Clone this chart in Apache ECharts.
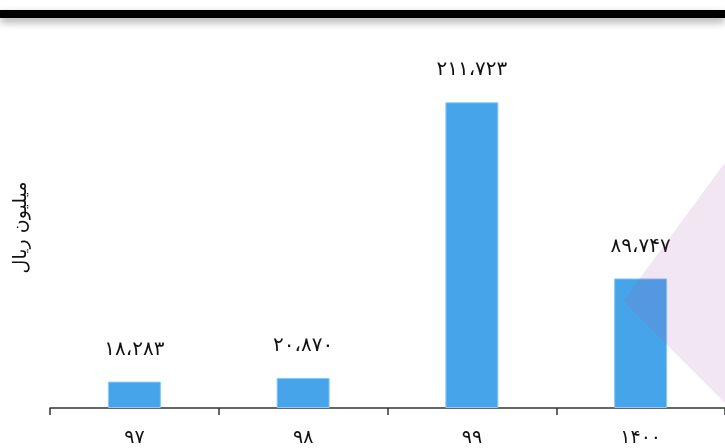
<!DOCTYPE html>
<html>
<head>
<meta charset="utf-8">
<script src="https://cdn.jsdelivr.net/npm/echarts@6/dist/echarts.min.js"></script>
<style>
html,body{margin:0;padding:0;background:#fff;}
#c{width:725px;height:448px;}
</style>
</head>
<body>
<div id="c"></div>
<script>
const categories = ['۹۷', '۹۸', '۹۹', '۱۴۰۰'];
const values = [18283, 20870, 211723, 89747];
const yAxisName = 'میلیون ریال';

function toFa(n) {
  const d = '۰۱۲۳۴۵۶۷۸۹';
  const s = String(n);
  const parts = [];
  for (let i = s.length; i > 0; i -= 3) parts.unshift(s.slice(Math.max(0, i - 3), i));
  return parts.join('،').replace(/[0-9]/g, c => d[+c]);
}

const chart = echarts.init(document.getElementById('c'));
const font = "'DejaVu Sans', sans-serif";
chart.setOption({
  animation: false,
  grid: { left: 50, right: 0, top: 47, bottom: 40 },
  xAxis: {
    type: 'category',
    data: categories,
    boundaryGap: true,
    axisLine: { show: true, lineStyle: { color: '#333', width: 1.5 } },
    axisTick: { show: true, alignWithLabel: false, interval: 0, length: 7, lineStyle: { color: '#333', width: 1.5 } },
    axisLabel: { margin: 21, fontSize: 19, color: '#111', fontFamily: font }
  },
  yAxis: {
    type: 'value',
    min: 0,
    max: 250000,
    name: yAxisName,
    nameLocation: 'middle',
    nameGap: 19,
    nameTextStyle: { fontSize: 19, color: '#111', fontFamily: font },
    axisLine: { show: false },
    axisTick: { show: false },
    axisLabel: { show: false },
    splitLine: { show: false }
  },
  series: [{
    type: 'bar',
    data: values,
    barWidth: 53,
    itemStyle: { color: '#46a5ea', borderColor: '#8ccaf3', borderWidth: 1 },
    label: {
      show: true,
      position: 'top',
      distance: 22,
      fontSize: 20,
      color: '#111',
      fontFamily: font,
      formatter: p => toFa(p.value)
    }
  }],
  graphic: [
    {
      type: 'rect',
      shape: { x: 0, y: 10, width: 725, height: 8 },
      style: { fill: '#000', shadowColor: 'rgba(0,0,0,0.35)', shadowBlur: 8, shadowOffsetY: 4 },
      z: 10
    },
    {
      type: 'polygon',
      shape: { points: [[623, 301], [760, 115], [790, 470], [725, 403]] },
      style: { fill: 'rgba(160,80,170,0.14)' },
      z: 20
    }
  ]
});
</script>
</body>
</html>
